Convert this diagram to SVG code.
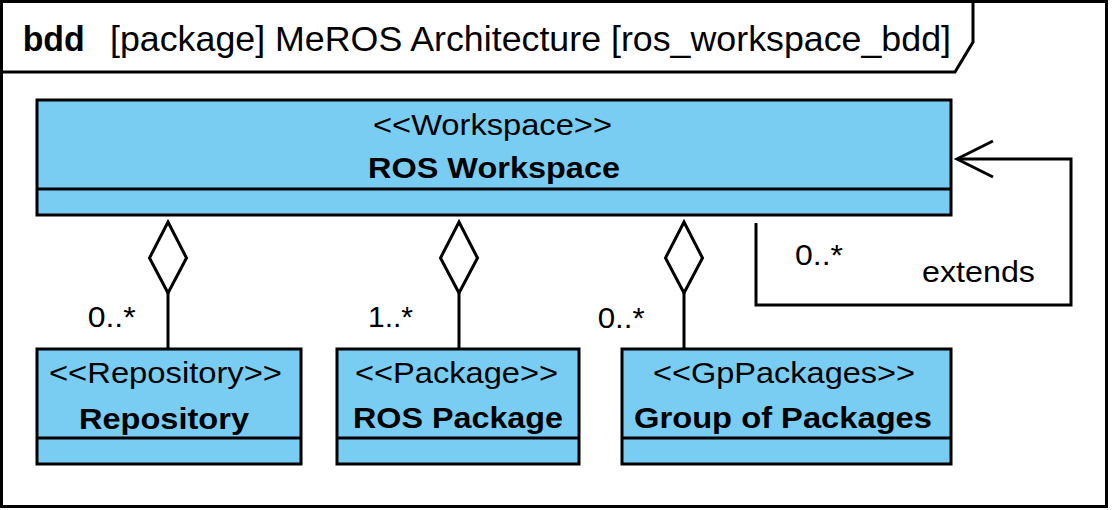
<svg xmlns="http://www.w3.org/2000/svg" width="1113" height="510" viewBox="0 0 1113 510">
<style>
  .frame { fill: #ffffff; stroke: #000000; stroke-width: 3; }
  .line { fill: none; stroke: #000000; stroke-width: 3; }
  .box { fill: #79CDF3; stroke: #000000; stroke-width: 3; }
  .diamond { fill: #ffffff; stroke: #000000; stroke-width: 3; stroke-linejoin: miter; }
  text { font-family: "Liberation Sans", Arial, sans-serif; fill: #000000; }
  .title { font-size: 35px; }
  .b { font-weight: bold; }
  .t { font-size: 30px; }
  .c { text-anchor: middle; }
</style>
<g id="frame">
  <rect class="frame" x="1.5" y="1.5" width="1105" height="505"/>
  <path class="line" d="M 1.5 72 H 955 L 973 42 V 1.5"/>
  <text class="title b" x="22.7" y="51" textLength="62" lengthAdjust="spacingAndGlyphs">bdd</text>
  <text class="title" x="110" y="51" textLength="841" lengthAdjust="spacingAndGlyphs">[package] MeROS Architecture [ros_workspace_bdd]</text>
</g>
<g id="connectors">
  <g id="agg-repository">
    <line class="line" x1="168" y1="293" x2="168" y2="348"/>
    <polygon class="diamond" points="168,222 186.5,258 168,293 149.5,258"/>
    <text class="t" x="87.7" y="327" textLength="48" lengthAdjust="spacingAndGlyphs">0..*</text>
  </g>
  <g id="agg-package">
    <line class="line" x1="459" y1="293" x2="459" y2="348"/>
    <polygon class="diamond" points="459,222 477.5,258 459,293 440.5,258"/>
    <text class="t" x="368" y="327" textLength="45" lengthAdjust="spacingAndGlyphs">1..*</text>
  </g>
  <g id="agg-group">
    <line class="line" x1="684" y1="293" x2="684" y2="348"/>
    <polygon class="diamond" points="684,222 702.5,258 684,293 665.5,258"/>
    <text class="t" x="597.7" y="328" textLength="47" lengthAdjust="spacingAndGlyphs">0..*</text>
  </g>
  <g id="extends">
    <polyline class="line" points="756,223 756,305 1071,305 1071,159 957,159"/>
    <polyline class="line" points="993,141 957,159 993,177"/>
    <text class="t" x="795" y="265" textLength="48" lengthAdjust="spacingAndGlyphs">0..*</text>
    <text class="t" x="922" y="282" textLength="113" lengthAdjust="spacingAndGlyphs">extends</text>
  </g>
</g>
<g id="ros-workspace">
  <rect class="box" x="37" y="100" width="914" height="115"/>
  <line class="line" x1="37" y1="189" x2="951" y2="189"/>
  <text class="t c" x="492.5" y="135" textLength="239" lengthAdjust="spacingAndGlyphs">&lt;&lt;Workspace&gt;&gt;</text>
  <text class="t b c" x="494" y="178" textLength="252" lengthAdjust="spacingAndGlyphs">ROS Workspace</text>
</g>
<g id="repository">
  <rect class="box" x="37" y="349" width="264" height="115"/>
  <line class="line" x1="37" y1="438" x2="301" y2="438"/>
  <text class="t c" x="165.5" y="383" textLength="233" lengthAdjust="spacingAndGlyphs">&lt;&lt;Repository&gt;&gt;</text>
  <text class="t b c" x="164" y="429" textLength="170" lengthAdjust="spacingAndGlyphs">Repository</text>
</g>
<g id="ros-package">
  <rect class="box" x="337" y="349" width="242" height="115"/>
  <line class="line" x1="337" y1="438" x2="579" y2="438"/>
  <text class="t c" x="456.5" y="383" textLength="203" lengthAdjust="spacingAndGlyphs">&lt;&lt;Package&gt;&gt;</text>
  <text class="t b c" x="458" y="428" textLength="210" lengthAdjust="spacingAndGlyphs">ROS Package</text>
</g>
<g id="group-of-packages">
  <rect class="box" x="622" y="349" width="329" height="115"/>
  <line class="line" x1="622" y1="438" x2="951" y2="438"/>
  <text class="t c" x="784" y="383" textLength="262" lengthAdjust="spacingAndGlyphs">&lt;&lt;GpPackages&gt;&gt;</text>
  <text class="t b c" x="783" y="428" textLength="298" lengthAdjust="spacingAndGlyphs">Group of Packages</text>
</g>
</svg>
